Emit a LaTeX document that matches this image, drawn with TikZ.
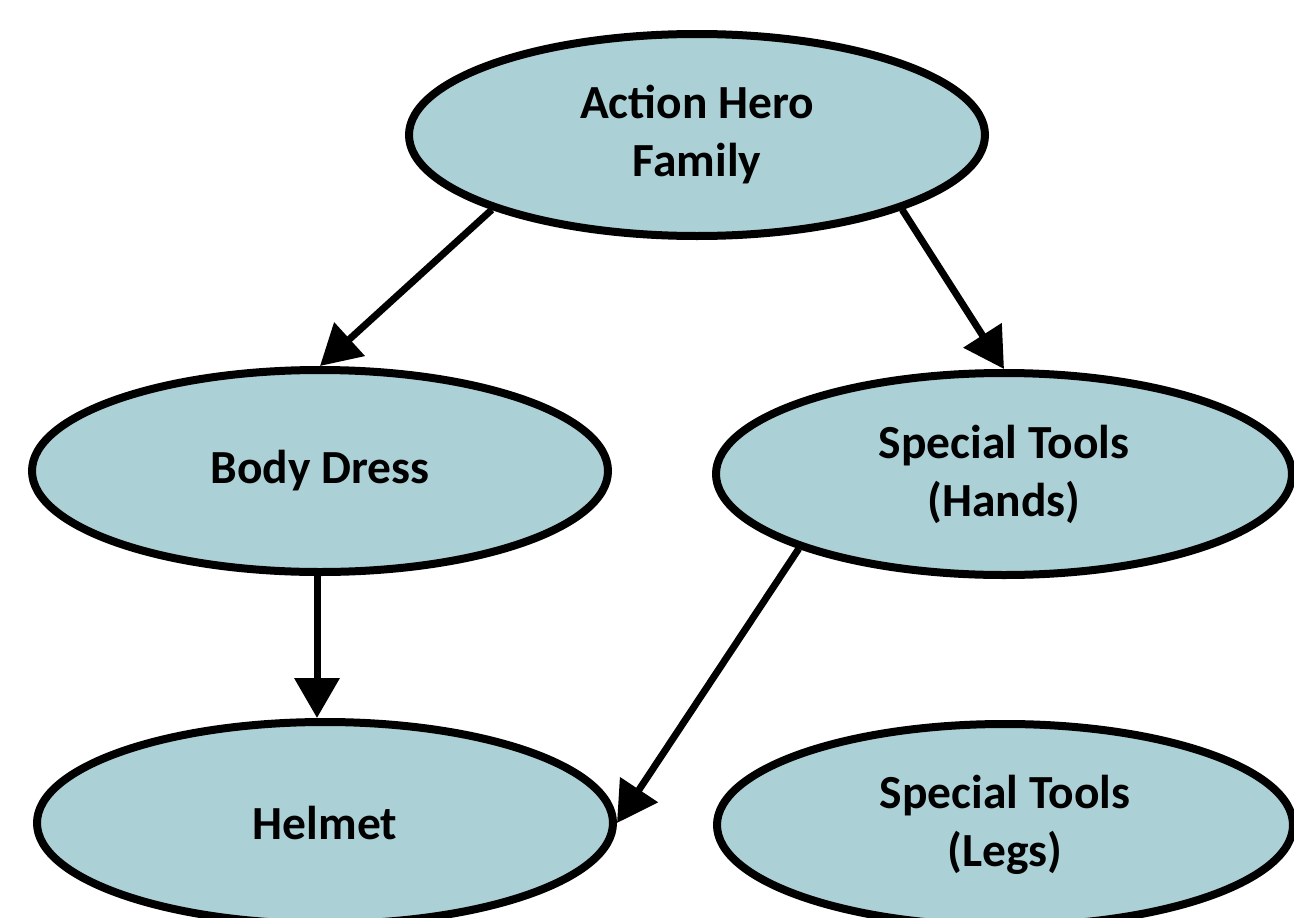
\documentclass[tikz,border=0pt]{standalone}
\usepackage{fontspec}
\setmainfont{Carlito}
\usetikzlibrary{shapes.geometric, arrows.meta}
\definecolor{nodefill}{HTML}{ABD0D6}

\begin{document}
\begin{tikzpicture}[x=1pt, y=-1pt,
    heronode/.style={ellipse, draw, line width=8pt, fill=nodefill, inner sep=0pt,
        minimum width=576pt, minimum height=202pt, align=center,
        font=\fontsize{47.5}{58}\selectfont\bfseries},
    link/.style={line width=7pt, -{Triangle[length=40pt, width=44pt]}}]
    \useasboundingbox (0,0) rectangle (1294,918);

    % Nodes
    \node[heronode] (family) at (697, 135) {Action Hero\\Family};
    \node[heronode] (dress) at (320, 471) {Body Dress};
    \node[heronode] (hands) at (1004, 474) {Special Tools\\(Hands)};
    \node[heronode] (helmet) at (325, 823) {Helmet};
    \node[heronode] (legs) at (1005, 825) {Special Tools\\(Legs)};

    % Connections
    \draw[link] (family.200) -- (dress.north);
    \draw[link] (family.340) -- (hands.north);
    \draw[link] ([xshift=-3pt]dress.south) -- ([xshift=-3pt]dress.south |- helmet.north);
    \draw[link] (hands.200) -- (helmet.east);
\end{tikzpicture}
\end{document}
